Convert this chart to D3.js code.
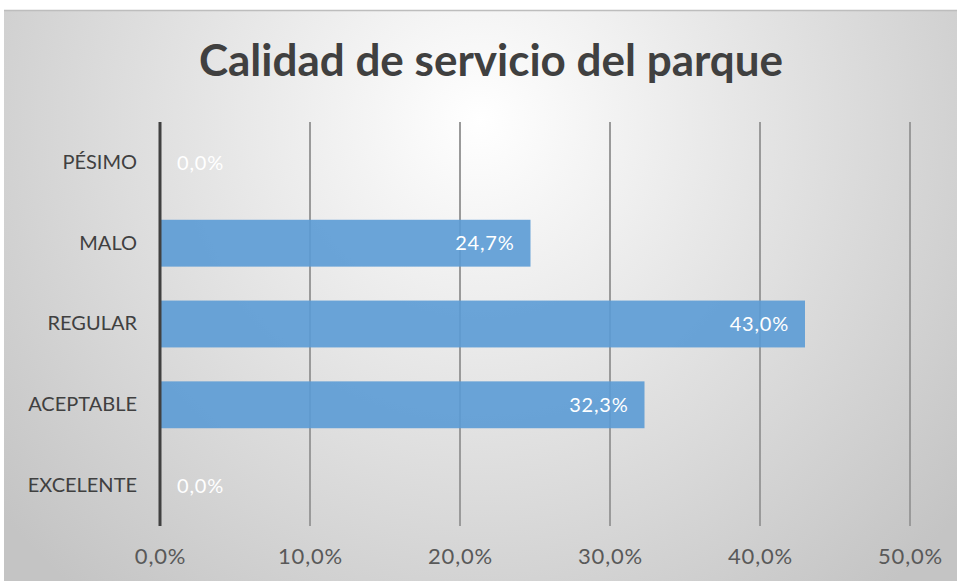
<!DOCTYPE html>
<html>
<head>
<meta charset="utf-8">
<script src="https://cdn.jsdelivr.net/npm/d3@7"></script>
<style>
  html, body { margin: 0; padding: 0; background: #fff; }
  svg { display: block; }
</style>
</head>
<body>
<svg id="chart" width="957" height="581"></svg>
<script>
// data
var categories = ["PÉSIMO", "MALO", "REGULAR", "ACEPTABLE", "EXCELENTE"];
var values = [0.0, 24.7, 43.0, 32.3, 0.0];
var xTicks = [0, 10, 20, 30, 40, 50];
var title = "Calidad de servicio del parque";

var W = 957, H = 581;
var fontFam = "Lato, 'Open Sans', sans-serif";
var svg = d3.select("#chart");

// background with soft radial shading
var defs = svg.append("defs");
var grad = defs.append("radialGradient")
    .attr("id", "bg")
    .attr("gradientUnits", "userSpaceOnUse")
    .attr("cx", 480).attr("cy", 120).attr("r", 620);
grad.append("stop").attr("offset", "0%").attr("stop-color", "#ffffff");
grad.append("stop").attr("offset", "100%").attr("stop-color", "#c4c4c4");

svg.append("rect").attr("x", 4).attr("y", 10).attr("width", W - 4).attr("height", H - 10)
    .attr("fill", "url(#bg)");
svg.append("line").attr("x1", 4).attr("x2", W).attr("y1", 10.5).attr("y2", 10.5)
    .attr("stroke", "#bdbdbd").attr("stroke-width", 1.5);

var x = d3.scaleLinear().domain([0, 50]).range([160, 910]);
var y = d3.scaleBand().domain(categories).range([122, 526]).paddingInner(0.42).paddingOuter(0.21);

// title
svg.append("text")
    .attr("x", 491).attr("y", 76)
    .attr("text-anchor", "middle")
    .attr("font-family", fontFam)
    .attr("font-weight", "bold")
    .attr("font-size", 44)
    .attr("fill", "#404040")
    .text(title);

// gridlines
svg.append("g").selectAll("line").data(xTicks.slice(1)).enter().append("line")
    .attr("x1", function (d) { return x(d); })
    .attr("x2", function (d) { return x(d); })
    .attr("y1", 122).attr("y2", 526)
    .attr("stroke", "#9a9a9a").attr("stroke-width", 2);

// bars
svg.append("g").selectAll("rect").data(values).enter().append("rect")
    .attr("x", x(0))
    .attr("y", function (d, i) { return y(categories[i]); })
    .attr("width", function (d) { return x(d) - x(0); })
    .attr("height", y.bandwidth())
    .attr("fill", "#5b9bd5").attr("fill-opacity", 0.9);

// value labels
svg.append("g").selectAll("text").data(values).enter().append("text")
    .attr("x", function (d) { return d > 0 ? x(d) - 16 : x(0) + 17; })
    .attr("y", function (d, i) { return y(categories[i]) + y.bandwidth() / 2; })
    .attr("dy", "0.36em")
    .attr("text-anchor", function (d) { return d > 0 ? "end" : "start"; })
    .attr("font-family", fontFam)
    .attr("font-size", 20)
    .attr("letter-spacing", 0.8)
    .attr("fill", "#ffffff")
    .text(function (d) { return d.toFixed(1).replace(".", ",") + "%"; });

// category axis
var yAxis = d3.axisLeft(y).tickSize(0).tickPadding(23);
var gy = svg.append("g").attr("transform", "translate(" + x(0) + ",0)").call(yAxis);
gy.select(".domain").remove();
gy.selectAll("text")
    .attr("font-family", fontFam).attr("font-size", 20).attr("fill", "#404040");
svg.append("line")
    .attr("x1", x(0)).attr("x2", x(0)).attr("y1", 122).attr("y2", 526)
    .attr("stroke", "#404040").attr("stroke-width", 3);

// value axis
var xAxis = d3.axisBottom(x).tickValues(xTicks).tickSize(0).tickPadding(22)
    .tickFormat(function (d) { return d.toFixed(1).replace(".", ",") + "%"; });
var gx = svg.append("g").attr("transform", "translate(0,526)").call(xAxis);
gx.select(".domain").remove();
gx.selectAll("text")
    .attr("font-family", fontFam).attr("font-size", 22).attr("letter-spacing", 0.8)
    .attr("fill", "#595959");
</script>
</body>
</html>
